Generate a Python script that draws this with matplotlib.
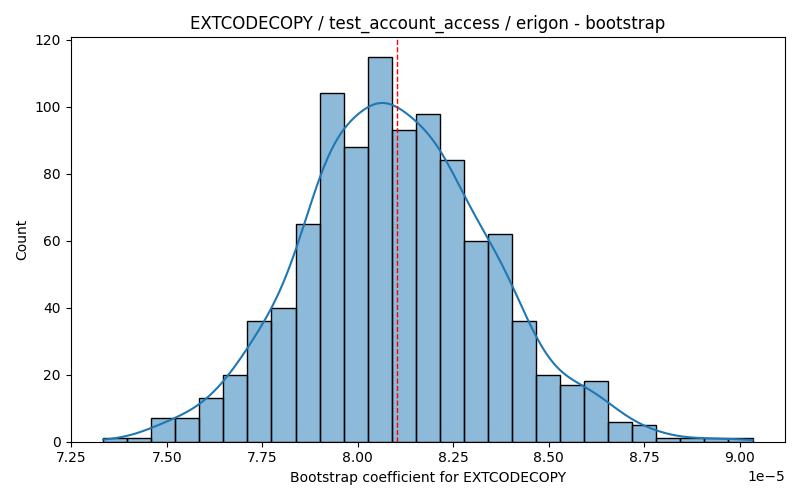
import numpy as np
import pandas as pd
import matplotlib
matplotlib.use("Agg")
import matplotlib.pyplot as plt
import seaborn as sns

# bootstrap histogram (27 bins), counts
bin_lo = 7.3335e-5
bin_hi = 9.034e-5
counts = [1, 1, 7, 7, 13, 20, 36, 40, 65, 104, 88, 115, 93, 98,
          84, 60, 62, 36, 20, 17, 18, 6, 5, 1, 1, 1, 1]
point_estimate = 8.102e-5

title = "EXTCODECOPY / test_account_access / erigon - bootstrap"
xlabel = "Bootstrap coefficient for EXTCODECOPY"

edges = np.linspace(bin_lo, bin_hi, len(counts) + 1)
centers = (edges[:-1] + edges[1:]) / 2
df = pd.DataFrame({"coef": centers, "n": counts})

# weighted kde uses the effective n, so shrink bandwidth back to n=1000 scale
n_eff = sum(counts) ** 2 / sum(c * c for c in counts)
bw_adj = (sum(counts) / n_eff) ** (-0.2)

fig, ax = plt.subplots(figsize=(8, 5), dpi=100)
sns.histplot(data=df, x="coef", weights="n", bins=len(counts),
             binrange=(bin_lo, bin_hi), kde=True,
             kde_kws={"bw_adjust": bw_adj, "cut": 3, "clip": (bin_lo, bin_hi)},
             edgecolor="black", ax=ax)
ax.axvline(point_estimate, color="red", linestyle="--", linewidth=1)

ax.set_title(title)
ax.set_xlabel(xlabel)
ax.set_ylabel("Count")

plt.tight_layout()
plt.savefig("out.png")
